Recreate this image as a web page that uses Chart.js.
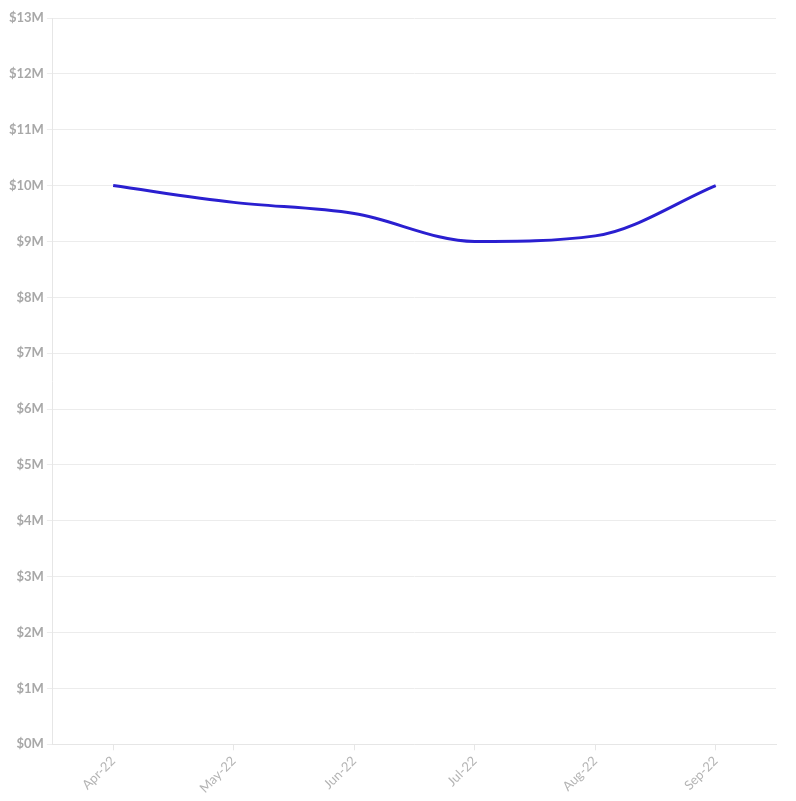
<!DOCTYPE html>
<html>
<head>
<meta charset="utf-8">
<script src="https://cdn.jsdelivr.net/npm/chart.js@4"></script>
<style>
html,body{margin:0;padding:0;background:#fff;}
#wrap{width:796px;height:801px;}
</style>
</head>
<body>
<div id="wrap"><canvas id="c"></canvas></div>
<script>
const categories = ["Apr-22","May-22","Jun-22","Jul-22","Aug-22","Sep-22"];
const revenue = [10.0, 9.7, 9.5, 9.0, 9.1, 10.0];

new Chart(document.getElementById('c'), {
  type: 'line',
  data: {
    labels: categories,
    datasets: [{
      data: revenue,
      borderColor: '#2a1fd0',
      borderWidth: 3,
      pointRadius: 0,
      cubicInterpolationMode: 'monotone',
      fill: false
    }]
  },
  options: {
    responsive: true,
    maintainAspectRatio: false,
    animation: false,
    layout: { padding: { top: 18, right: 20, left: 6, bottom: 2 } },
    plugins: { legend: { display: false }, tooltip: { enabled: false } },
    scales: {
      x: {
        offset: true,
        grid: { display: true, drawOnChartArea: false, color: '#e6e6e6', tickLength: 6 },
        border: { color: '#e6e6e6' },
        ticks: {
          color: '#b4b4b4', maxRotation: 45, minRotation: 45,
          font: { family: 'Lato', size: 13 }
        }
      },
      y: {
        min: 0, max: 13,
        grid: { color: '#ececec', tickLength: 6 },
        border: { color: '#e6e6e6' },
        ticks: {
          stepSize: 1, color: '#a8a8a8',
          font: { family: 'Lato', size: 13, weight: 'bold' },
          callback: v => '$' + v + 'M'
        }
      }
    }
  }
});
</script>
</body>
</html>
